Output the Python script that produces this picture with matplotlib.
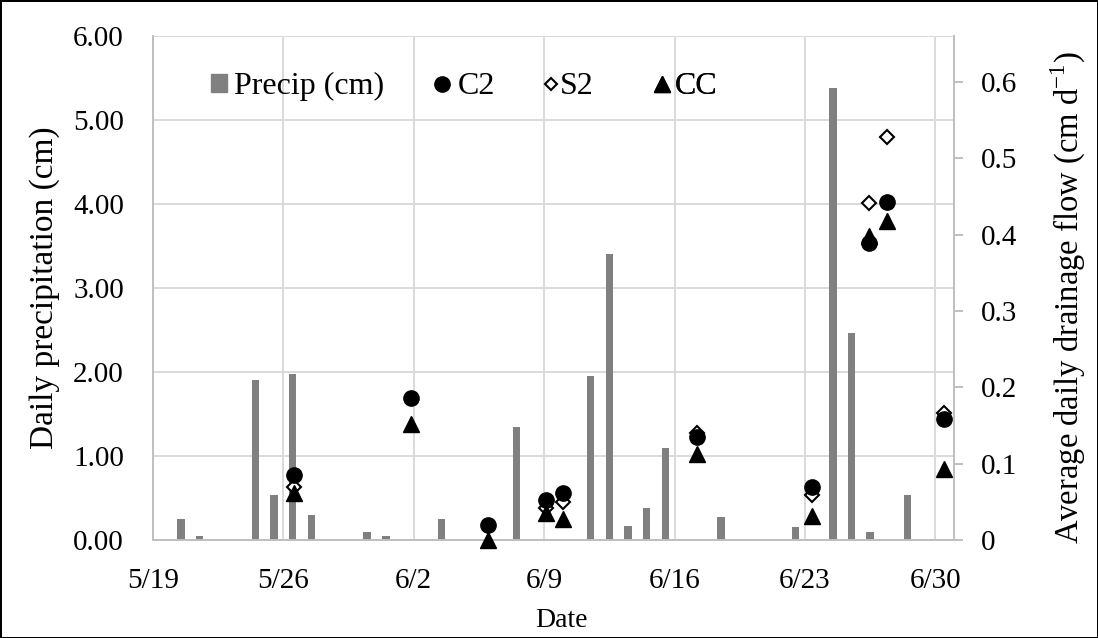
import numpy as np
import matplotlib.pyplot as plt
from matplotlib.lines import Line2D
from matplotlib.patches import Patch

plt.rcParams['font.family'] = ['Liberation Serif', 'DejaVu Serif']
plt.rcParams['mathtext.fontset'] = 'custom'
plt.rcParams['mathtext.rm'] = 'Liberation Serif'

# Day numbers are counted from 5/19 (day 0)
precip_day = [1, 2, 5, 6, 7, 8, 11, 12, 15, 19, 23, 24, 25, 26, 27, 30, 34, 36, 37, 38, 40]
precip_cm = [0.25, 0.05, 1.90, 0.53, 1.98, 0.30, 0.10, 0.05, 0.25, 1.34, 1.95,
             3.40, 0.17, 0.38, 1.09, 0.27, 0.15, 5.38, 2.46, 0.09, 0.53]

# drainage sampling times (fractional day) and average daily flow, cm/d
flow_day = [7.58, 13.87, 17.97, 21.08, 22.0, 29.2, 35.36, 38.44, 39.4, 42.45]
flow_c2 = [0.085, 0.186, 0.020, 0.052, 0.062, 0.135, 0.070, 0.389, 0.442, 0.159]
flow_s2 = [0.069, np.nan, np.nan, 0.042, 0.050, 0.140, 0.059, 0.441, 0.528, 0.166]
flow_cc = [0.061, 0.152, 0.0, 0.035, 0.028, 0.113, 0.032, 0.398, 0.418, 0.093]

tick_day = [0, 7, 14, 21, 28, 35, 42]
tick_label = ['5/19', '5/26', '6/2', '6/9', '6/16', '6/23', '6/30']

W, H = 1098, 638
fig = plt.figure(figsize=(W / 100, H / 100), dpi=100)
fig.patch.set_edgecolor('black')
fig.patch.set_linewidth(2)

ax = fig.add_axes([153 / W, 1 - 540 / H, 801 / W, 504 / H])
grid_col = '#d9d9d9'
axis_col = '#bfbfbf'

ax.bar(np.array(precip_day) + 0.5, precip_cm, width=0.4, color='#808080', zorder=2)
ax.set_xlim(0, 43)
ax.set_ylim(0, 6)
ax.set_xticks(tick_day, tick_label)
ax.set_yticks(range(7), [f'{v:.2f}' for v in range(7)])
ax.grid(True, color=grid_col, lw=1.4)
ax.set_axisbelow(True)
ax.tick_params(axis='both', length=0, labelsize=21)
ax.tick_params(axis='y', pad=21)
ax.tick_params(axis='x', pad=20)
for s in ['top', 'right']:
    ax.spines[s].set_visible(False)
for s in ['left', 'bottom']:
    ax.spines[s].set_color(axis_col)
    ax.spines[s].set_linewidth(1.4)

ax.set_ylabel('Daily precipitation (cm)', fontsize=24)
ax.yaxis.set_label_coords(-0.116, 0.5)
ax.set_xlabel('Date', fontsize=20)
ax.xaxis.set_label_coords(0.51, -0.135)

ax2 = ax.twinx()
ax2.set_ylim(0, 0.66)
ax2.set_yticks(np.arange(0, 0.61, 0.1), ['0'] + [f'{v:.1f}' for v in np.arange(0.1, 0.61, 0.1)])
ax2.tick_params(axis='y', length=6.5, width=1.4, color=axis_col, labelsize=21, pad=13)
for s in ['top', 'left', 'bottom']:
    ax2.spines[s].set_visible(False)
ax2.spines['right'].set_color(axis_col)
ax2.spines['right'].set_linewidth(1.4)
ax2.set_ylabel('Average daily drainage flow (cm d$^{\\mathregular{-1}}$)', fontsize=23.5)
ax2.yaxis.set_label_coords(1.118, 0.48)

ax2.plot(flow_day, flow_s2, ls='none', marker='D', ms=7.5, mfc='white', mec='black',
         mew=1.5, clip_on=False, zorder=3)
ax2.plot(flow_day, flow_c2, ls='none', marker='o', ms=11, color='black', clip_on=False, zorder=4)
ax2.plot(flow_day, flow_cc, ls='none', marker='^', ms=11, color='black', clip_on=False, zorder=5)

entries = [
    (Patch(color='#808080'), 'Precip (cm)', 0.0724, 0.22),
    (Line2D([], [], ls='none', marker='o', ms=11, color='black'), 'C2', 0.3514, 0.22),
    (Line2D([], [], ls='none', marker='D', ms=6, mfc='white', mec='black', mew=1.5), 'S2', 0.4875, 0.0),
    (Line2D([], [], ls='none', marker='^', ms=11, color='black'), 'CC', 0.6249, 0.17),
]
for handle, label, xpos, tpad in entries:
    leg = ax2.legend([handle], [label], loc='center left', bbox_to_anchor=(xpos, 0.90),
                     frameon=False, fontsize=23, handlelength=0.5, handleheight=0.5,
                     handletextpad=tpad, borderpad=0, borderaxespad=0)
    ax2.add_artist(leg)

fig.savefig('out.png', dpi=100)
